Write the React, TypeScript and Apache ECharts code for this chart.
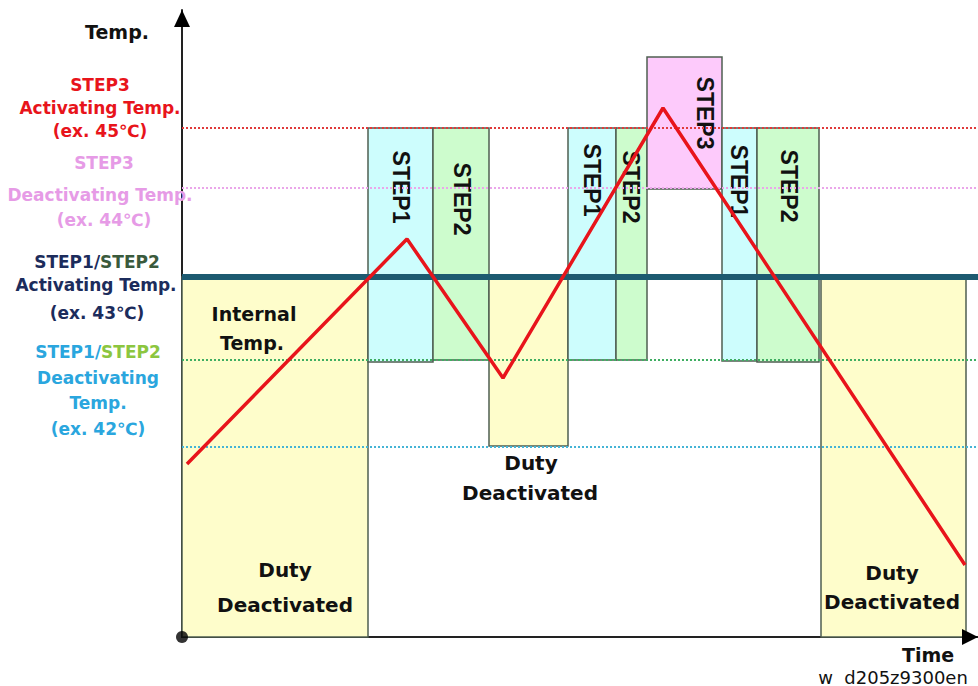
import React, { useEffect, useRef } from "react";
import * as echarts from "echarts";

// Axis extents (abstract time / temperature level units)
const xMax = 796;
const yMax = 627;

// Control boxes: kind, start/end time, low/high level
const boxKinds = ["duty", "step1", "step2", "duty", "step1", "step2", "step3", "step1", "step2", "duty"];
const boxStart = [0, 186, 251, 307, 386, 434, 465, 540, 575, 639];
const boxEnd = [186, 251, 307, 386, 434, 465, 540, 575, 637, 784];
const boxLow = [0, 275, 277, 191, 277, 277, 448, 276, 275, 0];
const boxHigh = [360, 509, 509, 360, 509, 509, 580, 509, 509, 360];
const boxLabels = ["", "STEP1", "STEP2", "", "STEP1", "STEP2", "STEP3", "STEP1", "STEP2", ""];
const boxLabelX = [0, 219, 280, 0, 410, 449, 523, 557, 607, 0];
const boxLabelY = [0, 450, 438, 0, 457, 450, 524, 456, 451, 0];

// Threshold levels
const thresholdNames = ["STEP3 on", "STEP3 off", "STEP2 off", "STEP1 off"];
const thresholdValues = [509, 449, 277, 190];
const thresholdColors = ["#e03a3a", "#eaa6ea", "#3fae62", "#45b4d6"];
const step12OnValue = 360;

// Internal temperature
const tempTime = [5, 225, 321, 481, 783];
const tempLevel = [173, 398, 259, 529, 72];

const boxFill: Record<string, string> = {
  duty: "#fefdcb",
  step1: "#cdfdfd",
  step2: "#cdfccd",
  step3: "#fdcafb",
};

const F = '"DejaVu Sans", "Noto Sans", sans-serif';

function txt(text: string, x: number, y: number, size: number, fill: string, weight = "bold") {
  return {
    type: "text",
    x,
    y,
    z: 100,
    style: {
      text,
      font: `${weight} ${size}px ${F}`,
      fill,
      align: "center",
      verticalAlign: "middle",
    },
  };
}

function rich(a: string, ca: string, b: string, cb: string, x: number, y: number) {
  const font = `bold 17px ${F}`;
  return {
    type: "text",
    x,
    y,
    z: 100,
    style: {
      text: `{a|${a}}{b|${b}}`,
      rich: { a: { fill: ca, font }, b: { fill: cb, font } },
      font,
      align: "center",
      verticalAlign: "middle",
    },
  };
}

export default function App() {
  const ref = useRef<HTMLDivElement>(null);
  useEffect(() => {
    if (!ref.current) return;
    const chart = echarts.init(ref.current, null, { renderer: "svg" });
    const boxData = boxKinds.map((k, i) => [boxStart[i], boxEnd[i], boxLow[i], boxHigh[i], boxLabelX[i], boxLabelY[i]]);

    const red = "#e8141b";
    const pink = "#e69be6";
    const navy = "#1c2c5c";
    const olive = "#3a5a3c";
    const sky = "#2aa6de";
    const lime = "#8cc63f";
    const axisColor = "#222";

    const option: any = {
      animation: false,
      grid: { left: 182, right: 0, top: 10, bottom: 49 },
      xAxis: {
        type: "value",
        min: 0,
        max: xMax,
        axisLine: { show: true, onZero: false, lineStyle: { color: axisColor, width: 2 } },
        axisTick: { show: false },
        axisLabel: { show: false },
        splitLine: { show: false },
      },
      yAxis: {
        type: "value",
        min: 0,
        max: yMax,
        axisLine: { show: true, onZero: false, lineStyle: { color: axisColor, width: 2 } },
        axisTick: { show: false },
        axisLabel: { show: false },
        splitLine: { show: false },
      },
      series: [
        {
          type: "custom",
          z: 1,
          data: boxData,
          encode: { x: [0, 1], y: [2, 3] },
          renderItem: (params: any, api: any) => {
            const i = params.dataIndex;
            const p0 = api.coord([api.value(0), api.value(3)]);
            const p1 = api.coord([api.value(1), api.value(2)]);
            const kind = boxKinds[i];
            const children: any[] = [
              {
                type: "rect",
                shape: { x: p0[0], y: p0[1], width: p1[0] - p0[0], height: p1[1] - p0[1] },
                style: { fill: boxFill[kind], stroke: "#4f5f52", lineWidth: 1.5 },
              },
            ];
            if (boxLabels[i]) {
              const lp = api.coord([api.value(4), api.value(5)]);
              children.push({
                type: "text",
                x: lp[0],
                y: lp[1],
                rotation: -Math.PI / 2,
                style: {
                  text: boxLabels[i],
                  font: 'bold 23px "Liberation Sans", Arial, sans-serif',
                  fill: "#111",
                  align: "center",
                  verticalAlign: "middle",
                },
              });
            }
            return { type: "group", children };
          },
        },
        ...thresholdNames.map((name, i) => ({
          type: "line",
          name,
          z: 2,
          symbol: "none",
          data: [
            [0, thresholdValues[i]],
            [xMax, thresholdValues[i]],
          ],
          lineStyle: { color: thresholdColors[i], width: 1.8, type: [2, 2] },
        })),
        {
          type: "line",
          name: "STEP1/STEP2 on",
          z: 3,
          symbol: "none",
          data: [
            [0, step12OnValue],
            [xMax, step12OnValue],
          ],
          lineStyle: { color: "#1d5a70", width: 6 },
        },
        {
          type: "line",
          name: "Internal Temp.",
          z: 4,
          symbol: "none",
          data: tempTime.map((t, i) => [t, tempLevel[i]]),
          lineStyle: { color: red, width: 3.5 },
        },
        {
          type: "scatter",
          z: 5,
          clip: false,
          symbolSize: 12,
          itemStyle: { color: "#000" },
          data: [[0, 0]],
        },
      ],
      graphic: [
        {
          type: "polygon",
          z: 100,
          shape: { points: [[182, 10], [174, 27], [190, 27]] },
          style: { fill: "#000" },
        },
        {
          type: "polygon",
          z: 100,
          shape: { points: [[978, 637], [962, 629], [962, 645]] },
          style: { fill: "#000" },
        },
        txt("Temp.", 117, 32, 19, "#111"),
        txt("STEP3", 100, 85, 17, red),
        txt("Activating Temp.", 100, 108, 17, red),
        txt("(ex. 45℃)", 100, 131, 17, red),
        txt("STEP3", 104, 163, 17, pink),
        txt("Deactivating Temp.", 100, 195, 17, pink),
        txt("(ex. 44℃)", 104, 220, 17, pink),
        rich("STEP1/", navy, "STEP2", olive, 97, 262),
        txt("Activating Temp.", 96, 285, 17, navy),
        txt("(ex. 43℃)", 97, 313, 17, navy),
        rich("STEP1/", sky, "STEP2", lime, 98, 352),
        txt("Deactivating", 98, 378, 17, sky),
        txt("Temp.", 98, 403, 17, sky),
        txt("(ex. 42℃)", 98, 429, 17, sky),
        txt("Internal", 254, 314, 19, "#111"),
        txt("Temp.", 252, 343, 19, "#111"),
        txt("Duty", 285, 570, 20, "#111"),
        txt("Deactivated", 285, 605, 20, "#111"),
        txt("Duty", 531, 463, 20, "#111"),
        txt("Deactivated", 530, 493, 20, "#111"),
        txt("Duty", 892, 573, 20, "#111"),
        txt("Deactivated", 892, 602, 20, "#111"),
        txt("Time", 928, 655, 19, "#111"),
        txt("w  d205z9300en", 893, 677, 18, "#111", "normal"),
      ],
    };
    chart.setOption(option);
    return () => chart.dispose();
  }, []);
  return (
    <div
      ref={ref}
      style={{ position: "fixed", left: 0, top: 0, width: 978, height: 686, background: "#fff" }}
    />
  );
}
